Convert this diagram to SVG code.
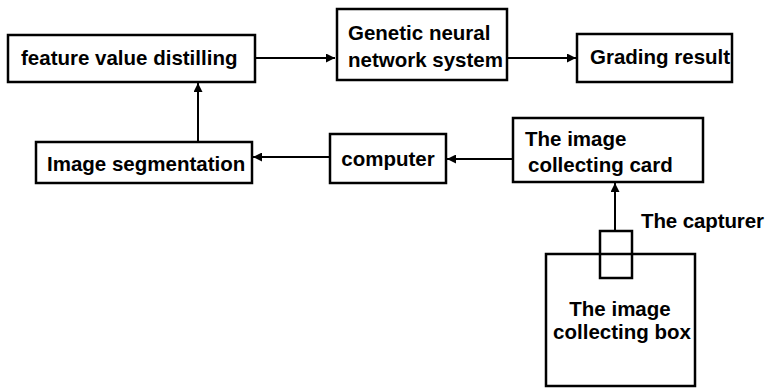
<svg xmlns="http://www.w3.org/2000/svg" width="766" height="390" viewBox="0 0 766 390">
  <style>
    .box { fill: #fff; stroke: #000; stroke-width: 2.5; }
    .lbl { font-family: "Liberation Sans", Arial, sans-serif; font-weight: bold; font-size: 20.5px; fill: #000; }
    .mid { text-anchor: middle; }
    .link { fill: none; stroke: #000; stroke-width: 2; }
  </style>
  <defs>
    <marker id="arrow" viewBox="0 0 8 8" refX="8" refY="4" markerWidth="4.5" markerHeight="4.5" orient="auto" markerUnits="strokeWidth">
      <path d="M0,0 L8,4 L0,8 Z" fill="#000"/>
    </marker>
  </defs>
  <rect width="766" height="390" fill="#fff"/>

  <g id="connectors">
    <line class="link" x1="255" y1="58" x2="335" y2="58" marker-end="url(#arrow)"/>
    <line class="link" x1="507" y1="58" x2="576" y2="58" marker-end="url(#arrow)"/>
    <line class="link" x1="198" y1="142" x2="198" y2="83" marker-end="url(#arrow)"/>
    <line class="link" x1="330" y1="157" x2="253" y2="157" marker-end="url(#arrow)"/>
    <line class="link" x1="513" y1="159" x2="447" y2="159" marker-end="url(#arrow)"/>
    <line class="link" x1="615" y1="231" x2="615" y2="183" marker-end="url(#arrow)"/>
  </g>

  <g id="feature">
    <rect class="box" x="8" y="35" width="247" height="47"/>
    <text class="lbl" x="21" y="65">feature value distilling</text>
  </g>
  <g id="genetic">
    <rect class="box" x="337" y="9" width="170" height="71"/>
    <text class="lbl" x="348" y="40">Genetic neural</text>
    <text class="lbl" x="348" y="67">network system</text>
  </g>
  <g id="grading">
    <rect class="box" x="577" y="34" width="155" height="48"/>
    <text class="lbl" x="590" y="64">Grading result</text>
  </g>
  <g id="segmentation">
    <rect class="box" x="36" y="142" width="216" height="41"/>
    <text class="lbl" x="47" y="171">Image segmentation</text>
  </g>
  <g id="computer">
    <rect class="box" x="330" y="134" width="116" height="49"/>
    <text class="lbl mid" x="388" y="166">computer</text>
  </g>
  <g id="card">
    <rect class="box" x="513" y="118" width="190" height="64"/>
    <text class="lbl" x="525" y="146">The image</text>
    <text class="lbl" x="528" y="172">collecting card</text>
  </g>
  <g id="box">
    <rect class="box" x="546" y="254" width="149" height="132"/>
    <text class="lbl mid" x="620" y="316">The image</text>
    <text class="lbl mid" x="622" y="339">collecting box</text>
  </g>
  <g id="capturer">
    <rect x="600" y="231" width="32" height="47" fill="none" stroke="#000" stroke-width="2.5"/>
    <text class="lbl" x="641" y="228" textLength="123">The capturer</text>
  </g>
</svg>
